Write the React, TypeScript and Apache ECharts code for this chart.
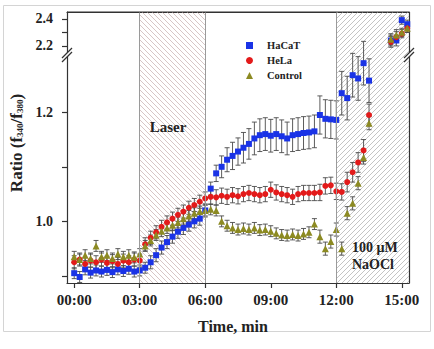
import React, { useEffect, useRef } from 'react';
import * as echarts from 'echarts';

// Time in minutes (lower segment of the broken y axis)
const times = [
  0, 0.25, 0.5, 0.75, 1, 1.25, 1.5, 1.75, 2, 2.25, 2.5, 2.75, 3,
  3.25, 3.5, 3.75, 4, 4.25, 4.5, 4.75, 5, 5.25, 5.5, 5.75, 6,
  6.25, 6.5, 6.75, 7, 7.25, 7.5, 7.75, 8, 8.25, 8.5, 8.75, 9, 9.25, 9.5, 9.75, 10, 10.25, 10.5, 10.75, 11,
  11.25, 11.5, 11.75, 12, 12.25, 12.5, 12.75, 13, 13.25, 13.5,
];

const hacat = [
  0.905, 0.898, 0.912, 0.906, 0.910, 0.908, 0.911, 0.907, 0.912, 0.909, 0.913, 0.908, 0.910,
  0.915, 0.925, 0.938, 0.952, 0.962, 0.972, 0.981, 0.988, 0.994, 1.000, 1.005, 1.020,
  1.060, 1.088, 1.100, 1.113, 1.120, 1.128, 1.135, 1.142, 1.152, 1.158, 1.160, 1.157, 1.160, 1.156, 1.152, 1.158, 1.160, 1.162, 1.163, 1.165,
  1.195, 1.188, 1.187, 1.186, 1.235, 1.226, 1.268, 1.262, 1.290, 1.258,
];
const hacatErr = [
  0.010, 0.010, 0.010, 0.010, 0.010, 0.010, 0.010, 0.010, 0.010, 0.010, 0.010, 0.010, 0.010,
  0.010, 0.012, 0.012, 0.012, 0.012, 0.012, 0.012, 0.012, 0.012, 0.012, 0.012, 0.012,
  0.012, 0.015, 0.020, 0.022, 0.025, 0.025, 0.028, 0.028, 0.030, 0.030, 0.030, 0.030, 0.030, 0.030, 0.030, 0.030, 0.030, 0.030, 0.030, 0.030,
  0.035, 0.035, 0.035, 0.035, 0.040, 0.040, 0.040, 0.040, 0.040, 0.040,
];

const hela = [
  0.925, 0.930, 0.922, 0.928, 0.925, 0.930, 0.924, 0.927, 0.922, 0.928, 0.925, 0.930, 0.928,
  0.958, 0.970, 0.980, 0.990, 0.998, 1.005, 1.012, 1.018, 1.025, 1.030, 1.036, 1.042,
  1.045, 1.044, 1.047, 1.045, 1.048, 1.046, 1.050, 1.052, 1.050, 1.048, 1.050, 1.058, 1.053, 1.050, 1.048, 1.045, 1.050, 1.052, 1.052, 1.052,
  1.053, 1.065, 1.066, 1.055, 1.054, 1.072, 1.090, 1.108, 1.130, 1.195,
];
const helaErr = [
  0.012, 0.012, 0.012, 0.012, 0.012, 0.012, 0.012, 0.012, 0.012, 0.012, 0.012, 0.012, 0.012,
  0.012, 0.012, 0.012, 0.012, 0.012, 0.012, 0.012, 0.012, 0.012, 0.012, 0.012, 0.012,
  0.014, 0.014, 0.014, 0.014, 0.014, 0.014, 0.014, 0.014, 0.014, 0.014, 0.014, 0.014, 0.014, 0.014, 0.014, 0.014, 0.014, 0.014, 0.014, 0.014,
  0.015, 0.015, 0.015, 0.015, 0.015, 0.018, 0.018, 0.018, 0.020, 0.020,
];

const control = [
  0.935, 0.930, 0.938, 0.932, 0.955, 0.935, 0.938, 0.932, 0.940, 0.935, 0.938, 0.934, 0.940,
  0.955, 0.965, 0.975, 0.982, 0.988, 0.993, 0.998, 1.005, 1.010, 1.015, 1.018, 1.020,
  1.022, 1.020, 1.000, 0.992, 0.988, 0.985, 0.987, 0.985, 0.988, 0.984, 0.985, 0.982, 0.978, 0.975, 0.974, 0.976, 0.974, 0.977, 0.980, 0.995,
  0.972, 0.950, 0.963, 0.985, 0.950, 1.015, 1.033, 1.070, 1.117, 1.180,
];
const controlErr = [
  0.010, 0.010, 0.010, 0.010, 0.010, 0.010, 0.010, 0.010, 0.010, 0.010, 0.010, 0.010, 0.010,
  0.010, 0.010, 0.010, 0.010, 0.010, 0.010, 0.010, 0.010, 0.010, 0.010, 0.010, 0.010,
  0.010, 0.010, 0.010, 0.010, 0.010, 0.010, 0.010, 0.010, 0.010, 0.010, 0.010, 0.010, 0.010, 0.010, 0.010, 0.010, 0.010, 0.010, 0.010, 0.010,
  0.012, 0.012, 0.012, 0.012, 0.012, 0.012, 0.012, 0.012, 0.012, 0.012,
];

// Upper segment of the broken y axis
const upperTimes = [14.5, 14.75, 15.0, 15.25];
const hacatUpper = [2.24, 2.24, 2.39, 2.36];
const helaUpper = [2.23, 2.265, 2.29, 2.33];
const controlUpper = [2.25, 2.28, 2.30, 2.33];
const upperErr = [0.04, 0.04, 0.03, 0.03];

const xTicks = [0, 3, 6, 9, 12, 15];
const xTickLabels = ['00:00', '03:00', '06:00', '09:00', '12:00', '15:00'];
const lowerYTicks = [0.9, 1.0, 1.1, 1.2];
const lowerYLabels = [1.0, 1.2];
const upperYTicks = [2.2, 2.3, 2.4];
const upperYLabels = [2.2, 2.4];
const laserWindow = [3, 6];
const naoclStart = 12;

const X_MIN = -0.33;
const X_MAX = 15.33;
const FONT = 'Liberation Serif';
const INK = '#222';
const C_BLUE = '#1a33e6';
const C_RED = '#e31a1a';
const C_OLIVE = '#8c8a22';

function hatch(color: string, dir: 'back' | 'fwd') {
  const s = 5;
  const c = document.createElement('canvas');
  c.width = s;
  c.height = s;
  const ctx = c.getContext('2d')!;
  ctx.strokeStyle = color;
  ctx.lineWidth = 0.9;
  ctx.beginPath();
  for (const k of [-s, 0, s]) {
    if (dir === 'back') {
      ctx.moveTo(0, k);
      ctx.lineTo(s, s + k);
    } else {
      ctx.moveTo(0, k + s);
      ctx.lineTo(s, k);
    }
  }
  ctx.stroke();
  return c;
}

const bars = (ts: number[], vs: number[], es: number[]) =>
  ts.map((t, i) => [t, vs[i] - es[i], vs[i] + es[i]]);

function errRender(_params: any, api: any) {
  const x = api.value(0);
  const top = api.coord([x, api.value(2)]);
  const bot = api.coord([x, api.value(1)]);
  const w = 2.5;
  const style = { stroke: '#4a4a4a', lineWidth: 0.9, fill: null };
  return {
    type: 'group',
    children: [
      { type: 'line', shape: { x1: top[0], y1: top[1], x2: bot[0], y2: bot[1] }, style },
      { type: 'line', shape: { x1: top[0] - w, y1: top[1], x2: top[0] + w, y2: top[1] }, style },
      { type: 'line', shape: { x1: bot[0] - w, y1: bot[1], x2: bot[0] + w, y2: bot[1] }, style },
    ],
  };
}

export default function App() {
  const ref = useRef<HTMLDivElement>(null);

  useEffect(() => {
    const chart = echarts.init(ref.current!, null, { renderer: 'svg' });
    const hatchLeft = hatch('#d2c0c0', 'back');
    const hatchRight = hatch('#bdbdbd', 'fwd');

    const axisLine = { show: true, onZero: false, lineStyle: { color: '#333', width: 1.2 } };
    const labelStyle = { fontFamily: FONT, fontWeight: 'bold' as const, color: INK };

    const errSeries = (name: string, data: number[][], xi: number, yi: number) => ({
      type: 'custom',
      name,
      xAxisIndex: xi,
      yAxisIndex: yi,
      renderItem: errRender,
      data,
      encode: { x: 0, y: [1, 2] },
      z: 2,
      silent: true,
    });
    const pts = (ts: number[], vs: number[]) => ts.map((t, i) => [t, vs[i]]);
    const scat = (name: string, data: number[][], xi: number, yi: number, symbol: string, size: number, color: string) => ({
      type: 'scatter',
      name,
      xAxisIndex: xi,
      yAxisIndex: yi,
      symbol,
      symbolSize: size,
      itemStyle: { color, opacity: 1 },
      data,
      z: 3,
      silent: true,
    });

    const option: any = {
      animation: false,
      backgroundColor: '#fff',
      grid: [
        { left: 67, top: 12, width: 342, height: 43 },
        { left: 67, top: 55, width: 342, height: 228 },
        { left: 67, top: 12, width: 342, height: 271 },
      ],
      xAxis: [
        {
          gridIndex: 0, type: 'value', min: X_MIN, max: X_MAX, position: 'top',
          axisLine, axisTick: { show: false }, axisLabel: { show: false }, splitLine: { show: false },
        },
        {
          gridIndex: 1, type: 'value', min: X_MIN, max: X_MAX, position: 'bottom',
          axisLine,
          axisTick: { show: true, inside: false, length: 5, customValues: xTicks, lineStyle: { color: '#333', width: 1.2 } },
          axisLabel: {
            ...labelStyle, fontSize: 15, margin: 9, customValues: xTicks,
            formatter: (v: number) => {
              const i = xTicks.indexOf(v);
              return i >= 0 ? xTickLabels[i] : '';
            },
          },
          splitLine: { show: false },
          name: 'Time, min',
          nameLocation: 'middle',
          nameGap: 35,
          nameTextStyle: { ...labelStyle, fontSize: 16, padding: [0, 10, 0, 0] },
        },
        { gridIndex: 2, type: 'value', min: X_MIN, max: X_MAX, show: false },
      ],
      yAxis: [
        {
          gridIndex: 0, type: 'value', min: 2.133, max: 2.45,
          axisLine,
          axisTick: { show: true, inside: false, length: 5, customValues: upperYTicks, lineStyle: { color: '#333', width: 1.2 } },
          axisLabel: { ...labelStyle, fontSize: 14, margin: 14, customValues: upperYLabels, formatter: (v: number) => v.toFixed(1) },
          splitLine: { show: false },
        },
        {
          gridIndex: 1, type: 'value', min: 0.887, max: 1.305,
          axisLine,
          axisTick: { show: true, inside: false, length: 5, customValues: lowerYTicks, lineStyle: { color: '#333', width: 1.2 } },
          axisLabel: { ...labelStyle, fontSize: 14, margin: 14, customValues: lowerYLabels, formatter: (v: number) => v.toFixed(1) },
          splitLine: { show: false },
        },
        { gridIndex: 2, type: 'value', min: 0, max: 1, show: false },
        {
          gridIndex: 0, type: 'value', min: 0, max: 1, position: 'right',
          axisLine, axisTick: { show: false }, axisLabel: { show: false }, splitLine: { show: false },
        },
        {
          gridIndex: 1, type: 'value', min: 0, max: 1, position: 'right',
          axisLine, axisTick: { show: false }, axisLabel: { show: false }, splitLine: { show: false },
        },
      ],
      legend: {
        orient: 'vertical',
        left: 241,
        top: 35,
        itemWidth: 7,
        itemHeight: 7,
        itemGap: 4,
        data: ['HaCaT', 'HeLa', 'Control'],
        textStyle: { fontFamily: FONT, fontWeight: 'bold', fontSize: 10.5, color: INK, padding: [0, 0, 0, 9] },
        selectedMode: false,
      },
      series: [
        {
          type: 'line',
          name: 'regions',
          xAxisIndex: 2,
          yAxisIndex: 2,
          data: [],
          silent: true,
          z: 0,
          markArea: {
            silent: true,
            data: [
              [
                { xAxis: laserWindow[0], itemStyle: { color: { image: hatchLeft, repeat: 'repeat' }, borderWidth: 0 } },
                { xAxis: laserWindow[1] },
              ],
              [
                { xAxis: naoclStart, itemStyle: { color: { image: hatchRight, repeat: 'repeat' }, borderWidth: 0 } },
                { xAxis: X_MAX },
              ],
            ],
          },
          markLine: {
            silent: true,
            symbol: 'none',
            label: { show: false },
            lineStyle: { color: '#9a9a9a', width: 1, type: 'solid' },
            data: [{ xAxis: laserWindow[0] }, { xAxis: laserWindow[1] }, { xAxis: naoclStart }],
          },
        },
        errSeries('HaCaT err', bars(times, hacat, hacatErr), 1, 1),
        errSeries('HeLa err', bars(times, hela, helaErr), 1, 1),
        errSeries('Control err', bars(times, control, controlErr), 1, 1),
        errSeries('HaCaT err up', bars(upperTimes, hacatUpper, upperErr), 0, 0),
        errSeries('HeLa err up', bars(upperTimes, helaUpper, upperErr), 0, 0),
        errSeries('Control err up', bars(upperTimes, controlUpper, upperErr), 0, 0),
        scat('HaCaT', pts(times, hacat), 1, 1, 'rect', 6, C_BLUE),
        scat('HeLa', pts(times, hela), 1, 1, 'circle', 6, C_RED),
        scat('Control', pts(times, control), 1, 1, 'triangle', 7, C_OLIVE),
        scat('HaCaT', pts(upperTimes, hacatUpper), 0, 0, 'rect', 6, C_BLUE),
        scat('HeLa', pts(upperTimes, helaUpper), 0, 0, 'circle', 6, C_RED),
        scat('Control', pts(upperTimes, controlUpper), 0, 0, 'triangle', 7, C_OLIVE),
      ],
      graphic: [
        {
          type: 'rect', silent: true, z: 0,
          shape: { x: 3.5, y: 5.5, width: 427, height: 326 },
          style: { fill: null, stroke: '#d4d4d4', lineWidth: 1 },
        },
        // top frame line
        { type: 'line', z: 90, silent: true, shape: { x1: 67, y1: 12, x2: 409, y2: 12 }, style: { stroke: '#333', lineWidth: 1.2 } },
        // axis break marks (left)
        {
          type: 'polygon', z: 100, silent: true,
          shape: { points: [[62, 58], [72, 48], [72, 52], [62, 62]] },
          style: { fill: '#fff', stroke: null },
        },
        { type: 'line', z: 101, silent: true, shape: { x1: 62, y1: 58, x2: 72, y2: 48 }, style: { stroke: '#333', lineWidth: 1.2 } },
        { type: 'line', z: 101, silent: true, shape: { x1: 62, y1: 62, x2: 72, y2: 52 }, style: { stroke: '#333', lineWidth: 1.2 } },
        // axis break marks (right)
        {
          type: 'polygon', z: 100, silent: true,
          shape: { points: [[404, 58], [414, 48], [414, 52], [404, 62]] },
          style: { fill: '#fff', stroke: null },
        },
        { type: 'line', z: 101, silent: true, shape: { x1: 404, y1: 58, x2: 414, y2: 48 }, style: { stroke: '#333', lineWidth: 1.2 } },
        { type: 'line', z: 101, silent: true, shape: { x1: 404, y1: 62, x2: 414, y2: 52 }, style: { stroke: '#333', lineWidth: 1.2 } },
        {
          type: 'text', z: 50, silent: true, x: 168, y: 127,
          style: { text: 'Laser', fontFamily: FONT, fontWeight: 'bold', fontSize: 15, fill: INK, align: 'center', verticalAlign: 'middle' },
        },
        {
          type: 'text', z: 50, silent: true, x: 352, y: 247,
          style: { text: '100 µM', fontFamily: FONT, fontWeight: 'bold', fontSize: 14, fill: INK, align: 'left', verticalAlign: 'middle' },
        },
        {
          type: 'text', z: 50, silent: true, x: 352, y: 264,
          style: { text: 'NaOCl', fontFamily: FONT, fontWeight: 'bold', fontSize: 14, fill: INK, align: 'left', verticalAlign: 'middle' },
        },
        {
          type: 'text', z: 50, silent: true, x: 16, y: 143, rotation: Math.PI / 2,
          style: {
            text: 'Ratio (f{s|340}/f{s|380})',
            fontFamily: FONT, fontWeight: 'bold', fontSize: 17, fill: INK,
            align: 'center', verticalAlign: 'middle',
            rich: {
              s: { fontFamily: FONT, fontWeight: 'bold', fontSize: 9, fill: INK, verticalAlign: 'bottom', padding: [6, 0, 0, 0] },
            },
          },
        },
      ],
    };

    chart.setOption(option);
    return () => chart.dispose();
  }, []);

  return (
    <div
      ref={ref}
      style={{ position: 'absolute', left: 0, top: 0, width: 434, height: 349, background: '#fff' }}
    />
  );
}
